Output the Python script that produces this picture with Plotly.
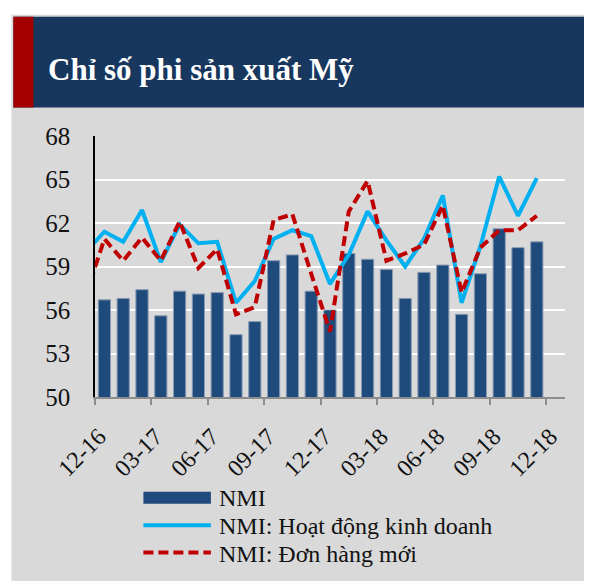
import plotly.graph_objects as go

# ---- data ----
months = ["11-16", "12-16", "01-17", "02-17", "03-17", "04-17", "05-17", "06-17",
          "07-17", "08-17", "09-17", "10-17", "11-17", "12-17", "01-18", "02-18",
          "03-18", "04-18", "05-18", "06-18", "07-18", "08-18", "09-18", "10-18",
          "11-18", "12-18"]
nmi = [None, 56.7, 56.8, 57.4, 55.6, 57.3, 57.1, 57.2, 54.3, 55.2, 59.4, 59.8, 57.3,
       56.0, 59.9, 59.5, 58.8, 56.8, 58.6, 59.1, 55.7, 58.5, 61.6, 60.3, 60.7, None]
business = [60.0, 61.4, 60.7, 62.9, 59.3, 61.9, 60.6, 60.7, 56.5, 58.0, 60.9, 61.5, 61.1,
            57.8, 59.8, 62.8, 60.8, 59.0, 60.9, 63.9, 56.5, 60.4, 65.2, 62.5, 65.1, None]
new_orders = [57.0, 60.9, 59.4, 61.0, 59.4, 62.1, 58.9, 60.2, 55.7, 56.2, 62.2, 62.6, 58.5,
              54.5, 62.8, 64.9, 59.4, 59.9, 60.5, 63.2, 57.2, 60.3, 61.5, 61.5, 62.5, None]
tick_labels = months[1::3]
title_text = "Chỉ số phi sản xuất Mỹ"
legend_names = ["NMI", "NMI: Hoạt động kinh doanh", "NMI: Đơn hàng mới"]

# ---- styles ----
BAR = "#1F4A7C"
BLUE = "#00B0F0"
RED = "#C00000"
GRAY = "#D9D9D9"
NAVY = "#17375E"
STRIPE = "#A50000"
SERIF = "Liberation Serif, Times New Roman, serif"

OFF = 8  # page body margin
WIN_W, WIN_H = 592, 581
W, H = WIN_W - OFF, WIN_H - OFF
# plot area in window pixels
L, R, T, B = 94.6, 564.6, 135.5, 397.1


def px(x):
    return (x - L) / (R - L)


def py(y):
    return (B - y) / (B - T)


xs = list(range(len(months)))

fig = go.Figure()
fig.add_trace(go.Bar(x=xs, y=nmi, width=0.65, marker=dict(color=BAR, line=dict(color="#8A9BB3", width=1)),
                     name=legend_names[0], showlegend=False))
fig.add_trace(go.Scatter(x=xs, y=business, mode="lines", line=dict(color=BLUE, width=4),
                         name=legend_names[1], showlegend=False))
fig.add_trace(go.Scatter(x=xs, y=new_orders, mode="lines", line=dict(color=RED, width=4, dash="10px,5px"),
                         name=legend_names[2], showlegend=False))

shapes = [
    dict(type="rect", xref="paper", yref="paper", x0=px(11), x1=px(600), y0=py(590), y1=py(14),
         fillcolor=GRAY, line=dict(width=0), layer="below"),
    dict(type="rect", xref="paper", yref="paper", x0=px(13), x1=px(600), y0=py(107), y1=py(16),
         fillcolor=NAVY, line=dict(width=0), layer="below"),
    dict(type="rect", xref="paper", yref="paper", x0=px(13), x1=px(33), y0=py(107), y1=py(16),
         fillcolor=STRIPE, line=dict(width=0), layer="below"),
    # legend symbols
    dict(type="rect", xref="paper", yref="paper", x0=px(143), x1=px(210.5), y0=py(504), y1=py(492),
         fillcolor=BAR, line=dict(width=0)),
    dict(type="line", xref="paper", yref="paper", x0=px(143), x1=px(210.5), y0=py(525.7), y1=py(525.7),
         line=dict(color=BLUE, width=4)),
    dict(type="line", xref="paper", yref="paper", x0=px(143), x1=px(210.5), y0=py(553), y1=py(553),
         line=dict(color=RED, width=4, dash="10px,5px")),
]

annotations = [
    dict(text=title_text, xref="paper", yref="paper", x=px(46), y=py(69), xanchor="left", yanchor="middle",
         showarrow=False, font=dict(family=SERIF, size=31, color="white", weight="bold")),
]
for name, yy in zip(legend_names, [498.5, 526.5, 554.5]):
    annotations.append(dict(text=name, xref="paper", yref="paper", x=px(217), y=py(yy), xanchor="left",
                            yanchor="middle", showarrow=False,
                            font=dict(family=SERIF, size=24, color="#111111")))

fig.update_layout(
    width=W, height=H,
    margin=dict(l=L - OFF, r=WIN_W - R, t=T - OFF, b=WIN_H - B, pad=0),
    paper_bgcolor="white",
    plot_bgcolor="rgba(0,0,0,0)",
    shapes=shapes,
    annotations=annotations,
    bargap=0.35,
    showlegend=False,
    font=dict(family=SERIF, size=24, color="#111111"),
)
fig.update_xaxes(range=[0.5, 25.5], tickmode="array",
                 tickvals=[i - 0.5 for i in range(1, len(months) + 1, 3)], ticktext=tick_labels,
                 tickangle=-45, ticks="outside", ticklen=6, tickcolor="#8C8C8C", tickwidth=1.5,
                 ticklabelstandoff=8, ticklabelshift=4,
                 showline=True, linecolor="#8C8C8C", linewidth=2, showgrid=False, zeroline=False,
                 tickfont=dict(family=SERIF, size=24, color="#111111"))
fig.update_yaxes(range=[50, 68], dtick=3, tick0=50, showline=True, linecolor="black", linewidth=1.5,
                 showgrid=True, gridcolor="white", gridwidth=1.5, zeroline=False, ticks="",
                 ticklabelstandoff=18, tickfont=dict(family=SERIF, size=25, color="#111111"))

fig.write_html("out.html")
